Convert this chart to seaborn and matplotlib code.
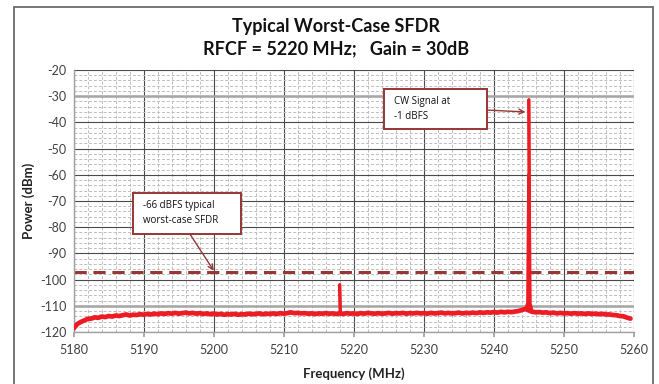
import numpy as np
import pandas as pd
import matplotlib
matplotlib.use("Agg")
import matplotlib.pyplot as plt
from matplotlib.patches import Rectangle
from matplotlib.ticker import MultipleLocator
import seaborn as sns

# Swept noise floor, 0.5 MHz steps from 5180 to 5260 MHz (dBm)
sweep_start = 5180.0
sweep_step = 0.5
floor_power = [
    -118.6, -117.0, -116.2, -115.6, -115.0, -114.9, -114.4, -114.6, -114.1, -114.3,
    -113.9, -114.1, -113.7, -113.9, -113.6, -113.3, -113.7, -113.4, -113.5, -113.2,
    -113.4, -113.1, -113.3, -113.0, -113.2, -112.9, -113.1, -112.8, -113.0, -112.7,
    -113.0, -112.8, -112.6, -112.9, -112.7, -113.0, -112.8, -113.1, -112.9, -113.2,
    -113.0, -113.3, -113.1, -113.4, -113.2, -113.3, -113.1, -113.4, -113.2, -113.3,
    -113.0, -113.2, -113.1, -112.9, -113.2, -113.0, -113.1, -112.9, -113.1, -112.8,
    -113.0, -112.8, -112.5, -112.8, -112.7, -112.9, -112.8, -113.0, -112.9, -113.1,
    -112.9, -113.0, -112.8, -113.0, -112.9, -113.1, -112.9, -113.1, -112.8, -113.0,
    -112.9, -113.1, -112.8, -113.0, -112.7, -112.9, -113.0, -112.8, -113.0, -112.9,
    -112.7, -113.0, -112.8, -112.9, -112.7, -113.0, -112.8, -112.9, -112.7, -112.9,
    -112.8, -113.0, -112.7, -112.9, -112.8, -112.6, -112.9, -112.7, -112.9, -112.8,
    -112.6, -112.9, -112.7, -112.8, -112.6, -112.8, -112.5, -112.7, -112.5, -112.6,
    -112.4, -112.6, -112.3, -112.5, -112.3, -112.4, -112.2, -112.0, -111.6, -111.2,
    -111.8, -112.3, -112.5, -112.4, -112.6, -112.5, -112.8, -112.6, -112.9, -112.7,
    -112.9, -112.8, -113.0, -112.8, -113.0, -112.9, -113.1, -112.9, -113.1, -113.0,
    -113.2, -113.1, -113.3, -113.3, -113.5, -113.6, -113.9, -114.0, -114.5, -114.9,
]

# Spur near 5218 MHz
spur_freq = [5217.9, 5218.0, 5218.1]
spur_power = [-113.0, -101.8, -113.0]

# CW tone at 5245 MHz (-1 dBFS)
cw_freq = [5244.8, 5244.95, 5245.0, 5245.05, 5245.2]
cw_power = [-109.0, -60.0, -31.2, -60.0, -109.0]

# Typical worst-case SFDR level (-66 dBFS)
sfdr_level = -97.0

x_ticks = [5180, 5190, 5200, 5210, 5220, 5230, 5240, 5250, 5260]
y_ticks = [-20, -30, -40, -50, -60, -70, -80, -90, -100, -110, -120]

floor_freq = sweep_start + sweep_step * np.arange(len(floor_power))
floor = pd.DataFrame({"freq": floor_freq, "power": floor_power})
trace = pd.DataFrame({
    "freq": np.concatenate([floor_freq, spur_freq, cw_freq]),
    "power": np.concatenate([floor_power, spur_power, cw_power]),
}).sort_values("freq")

sns.set_theme(style="white")
plt.rcParams["font.family"] = ["Lato", "DejaVu Sans"]

fig = plt.figure(figsize=(6.59, 3.84), dpi=100)
ax = fig.add_axes([0.1118, 0.1354, 0.962 - 0.1118, 0.8177 - 0.1354])

red = "#ED1C24"
brick = "#953735"

ax.set_xlim(5180, 5260)
ax.set_ylim(-120, -20)
ax.xaxis.set_major_locator(MultipleLocator(10))
ax.xaxis.set_minor_locator(MultipleLocator(2))
ax.yaxis.set_major_locator(MultipleLocator(10))
ax.yaxis.set_minor_locator(MultipleLocator(2))

ax.grid(which="minor", color="#bdbdbd", lw=0.7, ls=(0, (3, 2)), zorder=0)
ax.grid(which="major", color="#4a4a4a", lw=0.8, ls="-", zorder=0.5)
ax.set_axisbelow(True)
for yv in (-30, -110):
    ax.axhline(yv, color="#a6a6a6", lw=1.8, zorder=0.6)

# Full trace, plus a heavier stroke along the noise floor
sns.lineplot(data=trace, x="freq", y="power", ax=ax, color=red, lw=2.0,
             estimator=None, sort=True, zorder=3)
sns.lineplot(data=floor, x="freq", y="power", ax=ax, color=red, lw=3.4,
             estimator=None, sort=True, zorder=3)

ax.axhline(sfdr_level, color=brick, lw=2.2, ls=(0, (4, 2.2)), zorder=2)

ax.set_xticks(x_ticks)
ax.set_yticks(y_ticks)
ax.set_xticklabels([str(v) for v in x_ticks])
ax.set_yticklabels([str(v) for v in y_ticks])
ax.tick_params(axis="both", which="major", labelsize=9, labelcolor="#404040",
               length=0, pad=5)
ax.tick_params(axis="x", which="major", length=3.5, color="#a0a0a0",
               direction="out", bottom=True)
ax.tick_params(which="minor", length=0)

for side in ("top", "right"):
    ax.spines[side].set_visible(False)
for side in ("left", "bottom"):
    ax.spines[side].set_color("#a0a0a0")
    ax.spines[side].set_linewidth(1.0)

ax.set_xlabel("Frequency (MHz)", fontsize=9.5, fontweight="bold", color="#222222",
              labelpad=8)
ax.set_ylabel("Power (dBm)", fontsize=9.5, fontweight="bold", color="#222222",
              labelpad=4)

fig.text(0.51, 0.93, "Typical Worst-Case SFDR", ha="center", va="center",
         fontsize=13, fontweight="bold", color="#111111")
fig.text(0.51, 0.872, "RFCF = 5220 MHz;   Gain = 30dB", ha="center", va="center",
         fontsize=13, fontweight="bold", color="#111111")

# Callout boxes
def callout(x0, x1, y0, y1, text, tail, head):
    ax.add_patch(Rectangle((x0, y0), x1 - x0, y1 - y0, facecolor="white",
                           edgecolor=brick, lw=1.4, zorder=5))
    ax.text(x0 + 1.4, (y0 + y1) / 2, text, ha="left", va="center",
            fontsize=7, color="#111111", zorder=6, linespacing=1.5,
            family=["Open Sans", "DejaVu Sans"])
    ax.annotate("", xy=head, xytext=tail,
                arrowprops=dict(arrowstyle="->", color=brick, lw=1.0,
                                shrinkA=0, shrinkB=0, mutation_scale=9),
                zorder=6)

callout(5188.5, 5203.9, -82.6, -66.9, "-66 dBFS typical\nworst-case SFDR",
        (5196.6, -82.6), (5200.0, -96.6))
callout(5224.3, 5239.0, -42.5, -27.3, "CW Signal at\n-1 dBFS",
        (5239.0, -35.3), (5244.5, -36.0))

# Chart frame
fig.add_artist(Rectangle((14 / 659, -0.05), (653 - 14) / 659, 1 - 7 / 384 + 0.05,
                         transform=fig.transFigure, fill=False,
                         edgecolor="#6b6b6b", lw=1.3))

fig.savefig("out.png", dpi=100)
